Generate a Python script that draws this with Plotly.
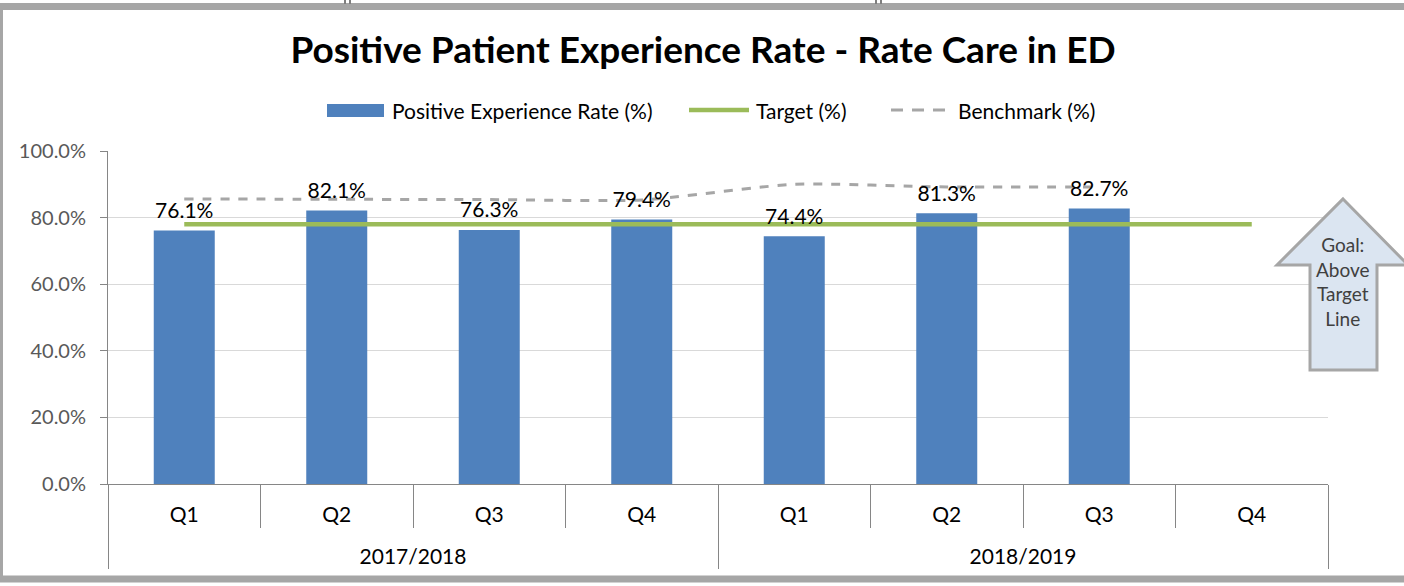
import plotly.graph_objects as go

years = ["2017/2018"] * 4 + ["2018/2019"] * 4
quarters = ["Q1", "Q2", "Q3", "Q4", "Q1", "Q2", "Q3", "Q4"]
rate = [76.1, 82.1, 76.3, 79.4, 74.4, 81.3, 82.7, None]
target = [78.0] * 8
benchmark = [85.6, 85.5, 85.4, 85.3, 90.0, 89.2, 89.2, None]
y_ticks = [0, 20, 40, 60, 80, 100]
y_ticktext = [f"{v:.1f}%" for v in y_ticks]
goal_text = "Goal:<br>Above<br>Target<br>Line"
legend_names = ["Positive Experience Rate (%)", "Target (%)", "Benchmark (%)"]

FONT = "Lato"
L, R, T, B = 108, 76, 151, 102
W, H = 1404, 586
PW, PH = W - L - R, H - T - B

BAR_C = "#4f81bd"
TGT_C = "#9bbb59"
BM_C = "#a6a6a6"


def px(x):
    return (x - L) / PW


def py(y):
    return (H - B - y) / PH


# x-axis: outer level years, inner level quarters (extra blank line widens the gap)
x = [years, [q + "<br> " for q in quarters]]

fig = go.Figure()
fig.add_trace(go.Bar(
    x=x, y=rate, name=legend_names[0],
    marker=dict(color=BAR_C, line=dict(width=0)),
))
fig.add_trace(go.Scatter(
    x=x, y=target, name=legend_names[1], mode="lines",
    line=dict(color=TGT_C, width=4.5),
))
fig.add_trace(go.Scatter(
    x=x, y=benchmark, name=legend_names[2], mode="lines",
    line=dict(color=BM_C, width=3, dash="dash", shape="spline", smoothing=0.6),
))
fig.add_trace(go.Scatter(
    x=x, y=rate, mode="markers+text", showlegend=False,
    text=[f"{v:.1f}%" if v is not None else "" for v in rate],
    textposition="top center",
    marker=dict(size=10, opacity=0),
    textfont=dict(family=FONT, size=21, color="#000000"),
    hoverinfo="skip",
))

shapes = []
# outer frame
shapes.append(dict(type="rect", xref="paper", yref="paper",
                   x0=px(-0.5), x1=px(1420), y0=py(6.5), y1=py(579),
                   line=dict(color="#a6a6a6", width=7), fillcolor="rgba(0,0,0,0)", layer="above"))
for xx in (345, 350, 876, 881):
    shapes.append(dict(type="line", xref="paper", yref="paper",
                       x0=px(xx), x1=px(xx), y0=py(0), y1=py(4),
                       line=dict(color="#7f7f7f", width=2)))
# goal arrow
pts = [(1343, 199), (1408, 265), (1377, 265), (1377, 370), (1310, 370), (1310, 265), (1277, 265)]
path = "M " + " L ".join(f"{px(a):.5f},{py(b):.5f}" for a, b in pts) + " Z"
shapes.append(dict(type="path", xref="paper", yref="paper", path=path,
                   fillcolor="#dbe5f1", line=dict(color="#a6a6a6", width=3)))

# custom legend swatches
shapes.append(dict(type="rect", xref="paper", yref="paper",
                   x0=px(327), x1=px(384), y0=py(104), y1=py(117),
                   fillcolor=BAR_C, line=dict(width=0)))
shapes.append(dict(type="line", xref="paper", yref="paper",
                   x0=px(689), x1=px(749), y0=py(110), y1=py(110),
                   line=dict(color=TGT_C, width=4.5)))
shapes.append(dict(type="line", xref="paper", yref="paper",
                   x0=px(891), x1=px(951), y0=py(110), y1=py(110),
                   line=dict(color=BM_C, width=3, dash="12px,9px")))

annotations = [dict(xref="paper", yref="paper", x=px(1343), y=py(281), text=goal_text,
                    showarrow=False, font=dict(family=FONT, size=19, color="#404040"),
                    align="center", xanchor="center", yanchor="middle")]
for name, lx in zip(legend_names, (390, 754, 956)):
    annotations.append(dict(xref="paper", yref="paper", x=px(lx), y=py(110), text=name,
                            showarrow=False, xanchor="left", yanchor="middle",
                            font=dict(family=FONT, size=21, color="#000000")))

fig.update_layout(
    width=W, height=H,
    margin=dict(l=L, r=R, t=T, b=B),
    paper_bgcolor="white", plot_bgcolor="white",
    font=dict(family=FONT, size=20, color="#000000"),
    title=dict(text="<b>Positive Patient Experience Rate - Rate Care in ED</b>",
               xref="container", x=703 / W, xanchor="center", y=1 - 50 / H, yanchor="middle",
               font=dict(family=FONT, size=37, color="#000000")),
    bargap=0.6,
    showlegend=False,
    shapes=shapes,
    annotations=annotations,
)
fig.update_yaxes(
    range=[0, 100], tickvals=y_ticks, ticktext=y_ticktext,
    showgrid=True, gridcolor="#d9d9d9", gridwidth=1,
    showline=True, linecolor="#868686", linewidth=1,
    ticks="outside", ticklen=7, tickcolor="#868686",
    ticklabelstandoff=10,
    tickfont=dict(family=FONT, size=20, color="#595959"),
    zeroline=False,
)
fig.update_xaxes(
    type="multicategory",
    showline=True, linecolor="#868686", linewidth=1,
    ticks="outside", tickson="boundaries", ticklen=43, tickcolor="#868686",
    showdividers=True, dividercolor="#868686", dividerwidth=1,
    ticklabelstandoff=12,
    tickfont=dict(family=FONT, size=21, color="#000000"),
    showgrid=False,
)

fig.write_html(
    "out.html",
    config={"displayModeBar": False},
    post_script="document.body.style.margin='0';document.body.style.overflow='hidden';",
)
